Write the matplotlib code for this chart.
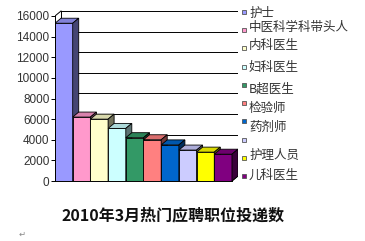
import matplotlib
matplotlib.use('Agg')
import matplotlib.pyplot as plt
from matplotlib.patches import Polygon, Rectangle
import numpy as np

plt.rcParams['font.family'] = ['Noto Sans CJK SC', 'DejaVu Sans']

# 数据
values = [15300, 6200, 6000, 5100, 4200, 4000, 3500, 3000, 2800, 2600]
colors = ['#9999FF', '#FF99CC', '#FFFFCC', '#CCFFFF', '#339966',
          '#FF8080', '#0066CC', '#CCCCFF', '#FFFF00', '#800080']
# 图例文字 (原图中第 8 项没有文字)
labels = ['护士', '中医科学科带头人', '内科医生', '妇科医生', 'B超医生',
          '检验师', '药剂师', '', '护理人员', '儿科医生']
yticks = [0, 2000, 4000, 6000, 8000, 10000, 12000, 14000, 16000]
title = '2010年3月热门应聘职位投递数'

W, H = 365, 241
fig = plt.figure(figsize=(W / 100, H / 100), dpi=100)
fig.patch.set_facecolor('white')

ax = fig.add_axes([55 / W, 60 / H, 183 / W, 171 / H])
dx = 0.34      # 3D 深度 (x 单位)
dy = 485       # 3D 深度 (y 单位)
n = len(values)
ax.set_xlim(-0.5, n - 0.5 + dx)
ax.set_ylim(0, 16000 * 171 / 165)

# 背景墙和网格线
for t in yticks[1:]:
    ax.plot([-0.5 + dx, n - 0.5 + dx], [t + dy, t + dy], color='black', lw=0.7, zorder=1)
ax.plot([-0.5 + dx, -0.5 + dx], [dy, 16000 + dy], color='black', lw=0.7, zorder=1)
ax.plot([n - 0.5 + dx, n - 0.5 + dx], [dy, 16000 + dy], color='black', lw=0.7, zorder=1)
ax.plot([-0.5, -0.5 + dx], [16000, 16000 + dy], color='black', lw=0.7, zorder=1)
ax.plot([-0.5, -0.5 + dx], [0, dy], color='black', lw=0.7, zorder=1)
ax.plot([n - 0.5, n - 0.5 + dx], [0, dy], color='black', lw=0.7, zorder=1)


def shade(c, f):
    rgb = np.array(matplotlib.colors.to_rgb(c))
    return tuple(rgb * f)


# 3D 柱子
for i, (v, c) in enumerate(zip(values, colors)):
    x0, x1 = i - 0.5, i + 0.5
    z = 2 + i * 0.01
    ax.bar(i, v, width=1.0, color=c, edgecolor='black', linewidth=0.6, zorder=z)
    top = Polygon([(x0, v), (x1, v), (x1 + dx, v + dy), (x0 + dx, v + dy)],
                  closed=True, facecolor=shade(c, 0.85), edgecolor='black', lw=0.6, zorder=z)
    side = Polygon([(x1, 0), (x1 + dx, dy), (x1 + dx, v + dy), (x1, v)],
                   closed=True, facecolor=shade(c, 0.45), edgecolor='black', lw=0.6, zorder=z)
    ax.add_patch(top)
    ax.add_patch(side)

ax.set_xticks([])
ax.set_yticks(yticks)
ax.set_yticklabels([str(t) for t in yticks], fontfamily='Liberation Sans',
                   fontsize=8.5, color='#333333')
ax.tick_params(axis='y', length=3, width=0.7, pad=1)
for s in ['top', 'right']:
    ax.spines[s].set_visible(False)
ax.spines['left'].set_linewidth(0.7)
ax.spines['bottom'].set_linewidth(0.7)
ax.spines['bottom'].set_bounds(-0.5, n - 0.5)
ax.spines['left'].set_bounds(0, 16000)
ax.patch.set_alpha(0)

# 图例 (手动排布, 文字位置与原图一致)
marker_y = np.linspace(12, 176, n)
label_y = [13, 27, 46, 67, 89, 108, 127, 0, 155, 175]
for i, c in enumerate(colors):
    fig.patches.append(Rectangle((242 / W, 1 - (marker_y[i] + 2) / H), 4 / W, 4 / H,
                                 transform=fig.transFigure, facecolor=c,
                                 edgecolor='#555555', lw=0.6))
    if labels[i]:
        fig.text(249 / W, 1 - label_y[i] / H, labels[i], ha='left', va='center',
                 fontsize=9, color='#333333')

fig.text(173 / W, 1 - 215 / H, title, ha='center', va='center', fontsize=11.5,
         fontweight='bold', color='#111111')
fig.text(22 / W, 1 - 234 / H, '↵', ha='center', va='center', fontsize=6,
         color='#888888', family='DejaVu Sans')

fig.savefig('out.png', dpi=100)
